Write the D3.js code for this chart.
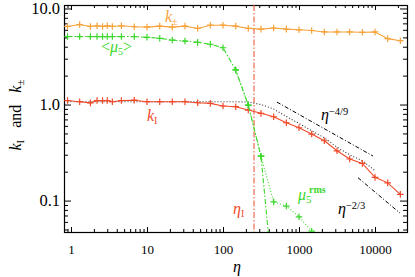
<!DOCTYPE html>
<html>
<head>
<meta charset="utf-8">
<script src="https://cdn.jsdelivr.net/npm/d3@7"></script>
<style>
  body { margin: 0; background: #fff; }
  svg { display: block; }
</style>
</head>
<body>
<div id="chart"></div>
<script>
// Data
const eta = [0.9, 1.3, 1.8, 2.2, 2.6, 3.0, 3.5, 4.6, 6.8, 10, 14.7, 21.5, 31.6, 46.4, 68.1,
             100, 147, 215, 316, 464, 681, 1000, 1468, 2154, 3162, 4642, 6813, 10000, 14678, 21544];
const kPlus = [6.5, 6.8, 6.5, 6.6, 6.5, 6.6, 6.5, 6.6, 6.45, 6.4, 6.55, 6.4, 6.55, 6.2, 6.7,
               6.7, 6.55, 6.2, 6.1, 6.26, 6.1, 6.0, 5.9, 5.7, 5.7, 5.7, 5.65, 5.7, 4.85, 4.62];
const kI = [1.1, 1.07, 1.04, 1.1, 1.1, 1.1, 1.07, 1.1, 1.11, 1.07, 1.07, 1.07, 1.07, 1.044, 1.029,
            0.965, 0.949, 0.876, 0.81, 0.746, 0.646, 0.573, 0.493, 0.42, 0.33, 0.271, 0.244, 0.1745, 0.153, 0.116];
const kIdotted = [1.07, 1.07, 1.07, 1.07, 1.07, 1.07, 1.07, 1.07, 1.07, 1.07, 1.07, 1.07, 1.07, 1.07, 1.07,
                  1.07, 1.07, 1.06, 1.0, 0.9, 0.75, 0.635, 0.535, 0.45, 0.36, 0.3, 0.26, 0.205, null, null];
const mu5 = [5.1, 5.1, 5.1, 5.1, 5.1, 5.1, 5.1, 5.1, 5.1, 5.01, 4.89, 4.69, 4.58, 4.44, 4.24,
             3.9, 2.29, 0.988, 0.29, 0.012, null, null, null, null, null, null, null, null, null, null];
const mu5rms = [null, null, null, null, null, null, null, null, null, null, null, null, null, null, null,
                null, 2.29, 0.988, 0.29, 0.097, 0.0877, 0.0678, 0.048, null, null, null, null, null, null, null];

const xMajor = [1, 10, 100, 1000, 10000];
const xMajorLabels = ["1", "10", "100", "1000", "10000"];
const yMajor = [0.1, 1, 10];
const yMajorLabels = ["0.1", "1.0", "10.0"];

// vertical marker at eta_I
const etaI = 256;
// reference power laws: [eta start, eta end], value at start
const lawA = { range: [513, 9415], start: 1.06, exponent: -4 / 9 };
const lawB = { range: [5975, 21330], start: 0.173, exponent: -2 / 3 };

// Colours
const orange = "#f7a23a";
const red = "#f04a2a";
const green = "#3ad82a";

// SVG setup
const width = 415, height = 277;
const margin = { top: 5, right: 8, bottom: 45, left: 64 };
const w = width - margin.left - margin.right;
const h = height - margin.top - margin.bottom;

const svg = d3.select("#chart").append("svg")
    .attr("width", width)
    .attr("height", height)
    .style("font-family", "'Liberation Serif', 'DejaVu Serif', serif");

const g = svg.append("g").attr("transform", `translate(${margin.left},${margin.top})`);

const x = d3.scaleLog().domain([0.809, 26360]).range([0, w]);
const y = d3.scaleLog().domain([0.0471, 10.87]).range([h, 0]);

// minor tick values
const xMinor = [];
[0.1, 1, 10, 100, 1000, 10000].forEach(dec => {
    for (let m = 2; m <= 9; m++) {
        const v = dec * m;
        if (v >= x.domain()[0] && v <= x.domain()[1]) xMinor.push(v);
    }
});
const yMinor = [];
[0.01, 0.1, 1].forEach(dec => {
    for (let m = 2; m <= 9; m++) {
        const v = dec * m;
        if (v >= y.domain()[0] && v <= y.domain()[1]) yMinor.push(v);
    }
});

// Axes
function styleAxis(sel) {
    sel.select(".domain").remove();
    sel.selectAll("line").attr("stroke", "#000").attr("stroke-width", 1);
}

g.append("g")
    .attr("transform", `translate(0,${h})`)
    .call(d3.axisBottom(x).tickValues(xMajor).tickSize(-5).tickSizeOuter(0).tickPadding(13)
        .tickFormat((d, i) => xMajorLabels[i]))
    .call(styleAxis)
    .selectAll("text").attr("font-size", 13).attr("fill", "#000")
    .attr("font-family", "'Liberation Serif', serif");
g.append("g")
    .attr("transform", `translate(0,${h})`)
    .call(d3.axisBottom(x).tickValues(xMinor).tickSize(-3).tickSizeOuter(0).tickFormat(""))
    .call(styleAxis);
g.append("g")
    .call(d3.axisTop(x).tickValues(xMajor).tickSize(-5).tickSizeOuter(0).tickFormat(""))
    .call(styleAxis);
g.append("g")
    .call(d3.axisTop(x).tickValues(xMinor).tickSize(-3).tickSizeOuter(0).tickFormat(""))
    .call(styleAxis);

g.append("g")
    .call(d3.axisLeft(y).tickValues(yMajor).tickSize(-7).tickSizeOuter(0).tickPadding(4)
        .tickFormat((d, i) => yMajorLabels[i]))
    .call(styleAxis)
    .selectAll("text").attr("font-size", 16.5).attr("fill", "#000")
    .attr("font-family", "'Liberation Serif', serif");
g.append("g")
    .call(d3.axisLeft(y).tickValues(yMinor).tickSize(-4).tickSizeOuter(0).tickFormat(""))
    .call(styleAxis);
g.append("g")
    .attr("transform", `translate(${w},0)`)
    .call(d3.axisRight(y).tickValues(yMajor).tickSize(-7).tickSizeOuter(0).tickFormat(""))
    .call(styleAxis);
g.append("g")
    .attr("transform", `translate(${w},0)`)
    .call(d3.axisRight(y).tickValues(yMinor).tickSize(-4).tickSizeOuter(0).tickFormat(""))
    .call(styleAxis);

// frame
g.append("rect")
    .attr("x", 0.5).attr("y", 0.5)
    .attr("width", w).attr("height", h)
    .attr("fill", "none").attr("stroke", "#000").attr("stroke-width", 1.2);

// clip for curves
g.append("clipPath").attr("id", "clip")
    .append("rect").attr("width", w).attr("height", h);
const plot = g.append("g").attr("clip-path", "url(#clip)");

const line = d3.line()
    .defined(d => d[1] != null)
    .x(d => x(d[0]))
    .y(d => y(d[1]));

function series(vals) {
    return eta.map((e, i) => [e, vals[i]]);
}

function drawSeries(vals, color, dash, markers) {
    const pts = series(vals);
    plot.append("path")
        .attr("d", line(pts))
        .attr("fill", "none")
        .attr("stroke", color)
        .attr("stroke-width", 1.1)
        .attr("stroke-dasharray", dash);
    if (markers) {
        plot.selectAll(null)
            .data(pts.filter(d => d[1] != null))
            .enter().append("path")
            .attr("d", d => {
                const px = x(d[0]), py = y(d[1]);
                return `M${px - 3.3},${py}H${px + 3.3}M${px},${py - 3.3}V${py + 3.3}`;
            })
            .attr("stroke", color)
            .attr("stroke-width", 1.2);
    }
}

// eta_I vertical dash-dot line
plot.append("line")
    .attr("x1", x(etaI)).attr("x2", x(etaI))
    .attr("y1", 0).attr("y2", h)
    .attr("stroke", red).attr("stroke-width", 1)
    .attr("stroke-dasharray", "6,2,1.5,2");

// reference power laws
[lawA, lawB].forEach(law => {
    const [e0, e1] = law.range;
    plot.append("line")
        .attr("x1", x(e0)).attr("y1", y(law.start))
        .attr("x2", x(e1)).attr("y2", y(law.start * Math.pow(e1 / e0, law.exponent)))
        .attr("stroke", "#000").attr("stroke-width", 1)
        .attr("stroke-dasharray", "4,2,1,2");
});

drawSeries(kIdotted, "#333", "1,2", false);
drawSeries(kPlus, orange, null, true);
drawSeries(kI, red, null, true);
drawSeries(mu5rms, green, "1,2", true);
drawSeries(mu5, green, "5,2,1.5,2", true);

// Labels inside the plot
function label(xp, yp, color, parts, size) {
    const t = svg.append("text")
        .attr("x", xp).attr("y", yp)
        .attr("fill", color)
        .attr("font-size", size || 15)
        .attr("font-family", "'Liberation Serif', 'DejaVu Serif', serif");
    parts.forEach(p => {
        const s = t.append("tspan").text(p.t);
        if (p.i) s.attr("font-style", "italic");
        if (p.sub) s.attr("baseline-shift", "-25%").attr("font-size", p.fs || 10);
        if (p.sup) s.attr("baseline-shift", "45%").attr("font-size", p.fs || 10);
    });
    return t;
}

label(165, 21.5, orange, [{ t: "k", i: true }, { t: "±", sub: true }], 16);
label(101, 52, green, [{ t: "<" }, { t: "μ", i: true }, { t: "5", sub: true }, { t: ">" }], 16);
label(147, 121, red, [{ t: "k", i: true }, { t: "I", sub: true }], 16);
label(233, 214, red, [{ t: "η", i: true }, { t: "I", sub: true }], 16);
label(321, 120, "#000", [{ t: "η", i: true }, { t: "−4/9", sup: true, fs: 10.5 }], 16);
label(338, 214, "#000", [{ t: "η", i: true }, { t: "−2/3", sup: true, fs: 10.5 }], 16);
label(298, 200, green, [{ t: "μ", i: true }, { t: "5", sub: true, fs: 11 }], 16);
label(309, 193, green, [{ t: "rms" }], 10).attr("font-weight", "bold");

// Axis titles
label(233, 272, "#000", [{ t: "η", i: true }], 16);
const yt = svg.append("text")
    .attr("transform", "translate(21,115) rotate(-90)")
    .attr("text-anchor", "middle")
    .attr("font-size", 16)
    .attr("font-family", "'Liberation Serif', 'DejaVu Serif', serif")
    .attr("fill", "#000")
    .attr("xml:space", "preserve");
yt.append("tspan").attr("font-style", "italic").text("k");
yt.append("tspan").attr("baseline-shift", "-25%").attr("font-size", 11).text("I");
yt.append("tspan").text("   and   ");
yt.append("tspan").attr("font-style", "italic").text("k");
yt.append("tspan").attr("baseline-shift", "-25%").attr("font-size", 11).text("±");
</script>
</body>
</html>
